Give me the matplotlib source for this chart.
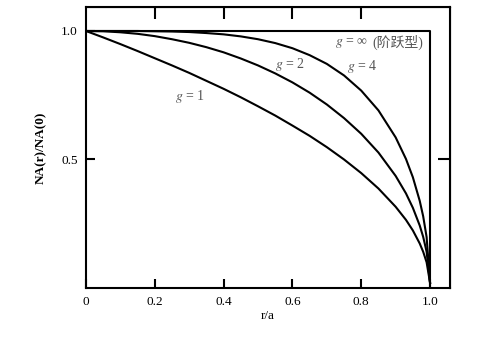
"""
渐变折射率光纤的局部数值孔径分布 NA(r)/NA(0)
曲线数值从原图读取
"""

import matplotlib.pyplot as plt

# ==========================================
# 数据
# ==========================================
r_vals = [0, 0.05, 0.1, 0.15, 0.2, 0.25, 0.3, 0.35, 0.4, 0.45, 0.5, 0.55, 0.6,
          0.65, 0.7, 0.75, 0.8, 0.85, 0.9, 0.93, 0.95, 0.97, 0.98, 0.99, 1.0]

na_g1 = [1.0, 0.975, 0.949, 0.922, 0.894, 0.866, 0.837, 0.806, 0.775, 0.742,
         0.707, 0.671, 0.632, 0.592, 0.548, 0.5, 0.447, 0.387, 0.316, 0.265,
         0.224, 0.173, 0.141, 0.1, 0.02]
na_g2 = [1.0, 0.999, 0.995, 0.989, 0.98, 0.968, 0.954, 0.937, 0.917, 0.893,
         0.866, 0.835, 0.8, 0.76, 0.714, 0.661, 0.6, 0.527, 0.436, 0.368,
         0.312, 0.243, 0.199, 0.141, 0.02]
na_g4 = [1.0, 1.0, 1.0, 1.0, 0.999, 0.998, 0.996, 0.992, 0.987, 0.979,
         0.968, 0.953, 0.933, 0.906, 0.872, 0.827, 0.768, 0.691, 0.586, 0.502,
         0.431, 0.339, 0.279, 0.198, 0.02]

# 阶跃型 g = ∞
r_step = [0, 1.0, 1.0]
na_step = [1.0, 1.0, 0.0]

x_ticks = [0, 0.2, 0.4, 0.6, 0.8, 1.0]
x_tick_labels = ['0', '0.2', '0.4', '0.6', '0.8', '1.0']
y_ticks = [0.5, 1.0]
y_tick_labels = ['0.5', '1.0']

curve_labels = ['$g$ = 1', '$g$ = 2', '$g$ = 4', '$g$ = ∞']
label_pos = [(0.26, 0.745), (0.55, 0.87), (0.76, 0.86), (0.725, 0.955)]
step_note = '(阶跃型)'

# ==========================================
# 绘图
# ==========================================
plt.rcParams['font.family'] = ['Liberation Serif', 'Noto Sans CJK SC']
plt.rcParams['mathtext.fontset'] = 'stix'

fig = plt.figure(figsize=(4.93, 3.38), dpi=100)
ax = fig.add_axes([0.1744, 0.148, 0.7384, 0.831])

lw = 1.5
for na in (na_g1, na_g2, na_g4):
    ax.plot(r_vals, na, color='black', lw=lw)
ax.plot(r_step, na_step, color='black', lw=lw)

label_color = '#555555'
txts = []
for text, (x, y) in zip(curve_labels, label_pos):
    t = ax.text(x, y, text, fontsize=10, color=label_color,
                ha='left', va='center')
    txts.append(t)
# 中文注释单独画，数学文本不支持字体回退
ax.annotate(step_note, xy=(1, 0.5), xycoords=txts[-1],
            xytext=(3, 0), textcoords='offset points',
            ha='left', va='center', fontsize=10, color=label_color,
            family=['Liberation Serif', 'Noto Sans CJK SC'])

ax.set_xlim(0, 1.058)
ax.set_ylim(0, 1.093)

ax.set_xticks(x_ticks)
ax.set_xticklabels(x_tick_labels)
ax.set_yticks(y_ticks)
ax.set_yticklabels(y_tick_labels)
ax.tick_params(direction='in', length=6.5, width=1.5, labelsize=9.5, pad=6)
for sp in ax.spines.values():
    sp.set_linewidth(1.5)

# 上方和右侧的刻度
top = ax.secondary_xaxis('top')
top.set_xticks([0.2, 0.4, 0.6, 0.8])
top.set_xticklabels([])
top.tick_params(direction='in', length=8.5, width=1.5)
right = ax.secondary_yaxis('right')
right.set_yticks([0.5])
right.set_yticklabels([])
right.tick_params(direction='in', length=8.5, width=1.5)

ax.set_xlabel('r/a', fontsize=9.5, labelpad=1)
ax.set_ylabel('NA(r)/NA(0)', fontsize=9.5, fontweight='bold', labelpad=10)

plt.savefig('out.png', dpi=100)
